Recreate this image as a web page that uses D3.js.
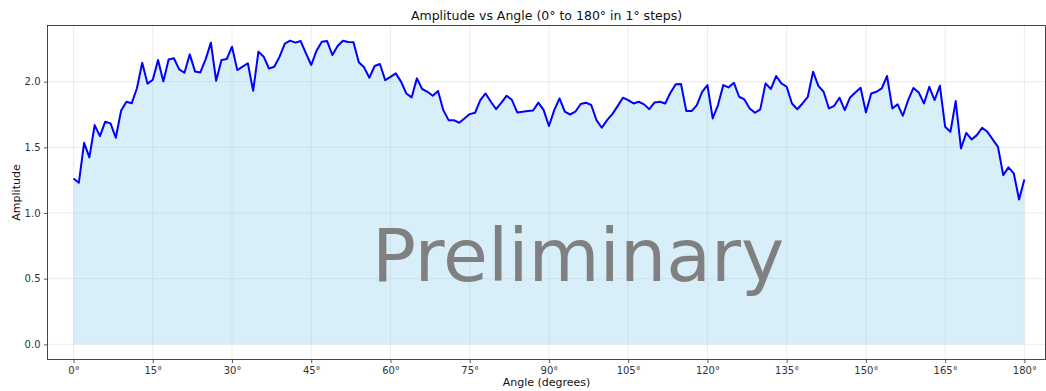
<!DOCTYPE html>
<html>
<head>
<meta charset="utf-8">
<script src="https://cdn.jsdelivr.net/npm/d3@7"></script>
<style>
  html, body { margin: 0; padding: 0; background: #fff; }
  svg { display: block; font-family: "DejaVu Sans", sans-serif; }
</style>
</head>
<body>
<svg id="chart" width="1046" height="391"></svg>
<script>
// Amplitude sampled at each whole degree from 0° to 180°
const angles = d3.range(0, 181);
const amplitude = [
  1.263, 1.230, 1.534, 1.423, 1.669, 1.585, 1.695, 1.682, 1.573, 1.778,
  1.847, 1.835, 1.950, 2.144, 1.985, 2.015, 2.165, 2.002, 2.168, 2.178,
  2.093, 2.068, 2.208, 2.078, 2.070, 2.170, 2.297, 2.007, 2.165, 2.172,
  2.266, 2.088, 2.114, 2.140, 1.930, 2.228, 2.190, 2.100, 2.114, 2.190,
  2.290, 2.312, 2.297, 2.309, 2.216, 2.127, 2.236, 2.304, 2.309, 2.203,
  2.271, 2.312, 2.302, 2.300, 2.147, 2.109, 2.030, 2.119, 2.134, 2.012,
  2.037, 2.063, 2.000, 1.910, 1.880, 2.025, 1.944, 1.923, 1.893, 1.929,
  1.783, 1.707, 1.707, 1.687, 1.720, 1.753, 1.763, 1.860, 1.910, 1.847,
  1.790, 1.840, 1.893, 1.860, 1.766, 1.771, 1.776, 1.780, 1.840, 1.783,
  1.662, 1.783, 1.873, 1.771, 1.750, 1.771, 1.830, 1.840, 1.822, 1.707,
  1.649, 1.707, 1.753, 1.814, 1.878, 1.860, 1.834, 1.847, 1.827, 1.790,
  1.842, 1.847, 1.834, 1.916, 1.980, 1.982, 1.776, 1.776, 1.822, 1.923,
  1.974, 1.720, 1.822, 1.974, 1.956, 1.992, 1.885, 1.865, 1.796, 1.763,
  1.789, 1.987, 1.944, 2.043, 1.987, 1.961, 1.834, 1.790, 1.834, 1.885,
  2.076, 1.968, 1.923, 1.796, 1.816, 1.878, 1.783, 1.880, 1.918, 1.954,
  1.766, 1.910, 1.923, 1.949, 2.043, 1.796, 1.827, 1.740, 1.860, 1.952,
  1.918, 1.834, 1.961, 1.860, 1.969, 1.656, 1.618, 1.852, 1.491, 1.610,
  1.560, 1.593, 1.649, 1.618, 1.560, 1.504, 1.288, 1.347, 1.301, 1.103,
  1.255
];
const xTicks = d3.range(0, 181, 15);
const yTicks = [0.0, 0.5, 1.0, 1.5, 2.0];

const titleText = "Amplitude vs Angle (0° to 180° in 1° steps)";
const xLabel = "Angle (degrees)";
const yLabel = "Amplitude";
const watermark = "Preliminary";

const svg = d3.select("#chart");
const W = 1046, H = 391;

// Plot frame (axes box)
const frame = { left: 47.5, right: 1045.5, top: 25.5, bottom: 359.5 };

// Axis limits include a small margin around the data
const xScale = d3.scaleLinear().domain([-4.93, 184.0]).range([frame.left, frame.right]);
const yMax = d3.max(amplitude);
const yPad = yMax * 0.05;
const yScale = d3.scaleLinear().domain([-yPad, yMax + yPad]).range([frame.bottom, frame.top]);

const data = angles.map((a, i) => ({ a, v: amplitude[i] }));

// Grid lines
const grid = svg.append("g").attr("stroke", "#b0b0b0").attr("stroke-opacity", 0.3).attr("stroke-width", 0.8);
grid.selectAll("line.gx").data(xTicks).join("line")
  .attr("x1", d => xScale(d)).attr("x2", d => xScale(d))
  .attr("y1", frame.top).attr("y2", frame.bottom);
grid.selectAll("line.gy").data(yTicks).join("line")
  .attr("y1", d => yScale(d)).attr("y2", d => yScale(d))
  .attr("x1", frame.left).attr("x2", frame.right);

// Area under the curve
const area = d3.area().x(d => xScale(d.a)).y0(yScale(0)).y1(d => yScale(d.v));
svg.append("path").datum(data)
  .attr("d", area)
  .attr("fill", "skyblue")
  .attr("fill-opacity", 0.32);

// Amplitude line
const line = d3.line().x(d => xScale(d.a)).y(d => yScale(d.v));
svg.append("path").datum(data)
  .attr("d", line)
  .attr("fill", "none")
  .attr("stroke", "#0000ff")
  .attr("stroke-width", 2)
  .attr("stroke-linejoin", "round");

// Watermark
svg.append("text")
  .attr("x", 578).attr("y", 281)
  .attr("text-anchor", "middle")
  .attr("font-size", 73)
  .attr("fill", "#808080")
  .attr("fill-opacity", 1)
  .text(watermark);

// Axes
const xAxis = d3.axisBottom(xScale).tickValues(xTicks)
  .tickFormat(d => d + "°").tickSizeOuter(0).tickSize(3.5).tickPadding(3.5);
const yAxis = d3.axisLeft(yScale).tickValues(yTicks)
  .tickFormat(d3.format(".1f")).tickSizeOuter(0).tickSize(3.5).tickPadding(3.5);

const gx = svg.append("g").attr("transform", `translate(0,${frame.bottom})`).call(xAxis);
const gy = svg.append("g").attr("transform", `translate(${frame.left},0)`).call(yAxis);
[gx, gy].forEach(g => {
  g.select(".domain").remove();
  g.selectAll(".tick line").attr("stroke", "#333").attr("stroke-width", 0.8);
  g.selectAll(".tick text").attr("fill", "#333").attr("font-size", 10)
    .attr("font-family", "DejaVu Sans, sans-serif");
});

// Frame
svg.append("rect")
  .attr("x", frame.left).attr("y", frame.top)
  .attr("width", frame.right - frame.left).attr("height", frame.bottom - frame.top)
  .attr("fill", "none").attr("stroke", "#333").attr("stroke-width", 0.9);

// Title and axis labels
svg.append("text")
  .attr("x", (frame.left + frame.right) / 2).attr("y", 20)
  .attr("text-anchor", "middle").attr("font-size", 12.5).attr("fill", "#111")
  .text(titleText);
svg.append("text")
  .attr("x", (frame.left + frame.right) / 2).attr("y", 386)
  .attr("text-anchor", "middle").attr("font-size", 11).attr("fill", "#111")
  .text(xLabel);
svg.append("text")
  .attr("transform", `translate(20,${(frame.top + frame.bottom) / 2}) rotate(-90)`)
  .attr("text-anchor", "middle").attr("font-size", 11).attr("fill", "#111")
  .text(yLabel);
</script>
</body>
</html>
